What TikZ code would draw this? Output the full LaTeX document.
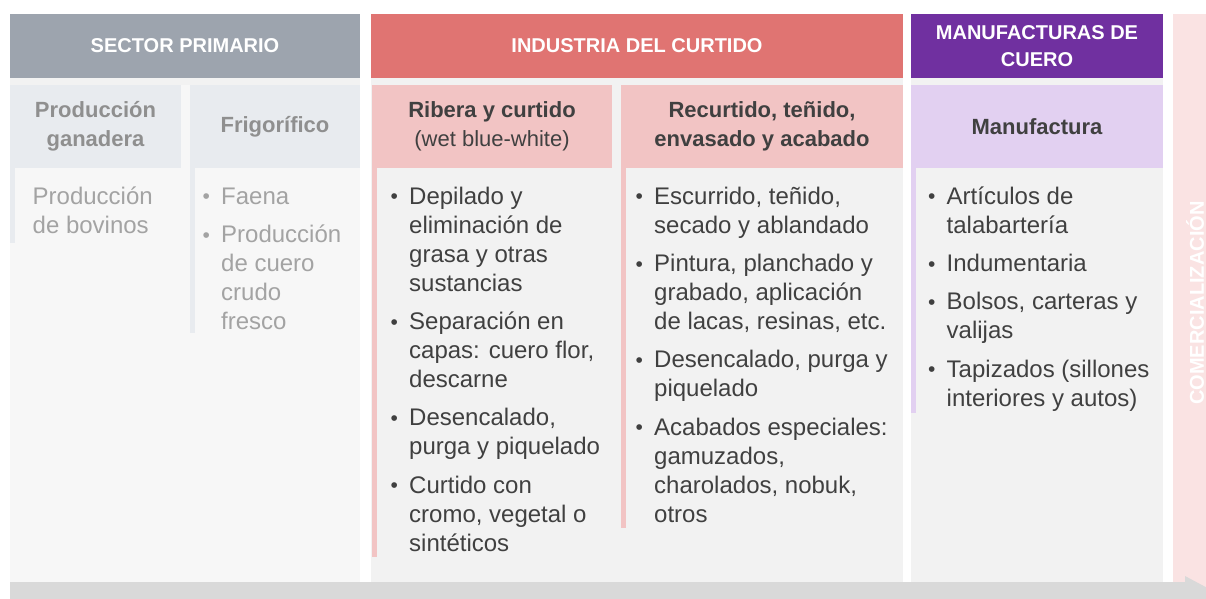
\documentclass[tikz,border=0pt]{standalone}
\usepackage{fontspec}
\setmainfont{Liberation Sans}
\usetikzlibrary{positioning}

\definecolor{hdgray}{HTML}{9DA4AE}
\definecolor{hdred}{HTML}{E07472}
\definecolor{hdpurple}{HTML}{7030A0}
\definecolor{comfill}{HTML}{FAE3E3}
\definecolor{sbgray}{HTML}{E8EBEF}
\definecolor{sbpink}{HTML}{F2C4C4}
\definecolor{sblav}{HTML}{E2D0F1}
\definecolor{bgpale}{HTML}{F7F7F7}
\definecolor{bglight}{HTML}{F2F2F2}
\definecolor{arrgray}{HTML}{D9D9D9}
\definecolor{txtdark}{HTML}{404040}
\definecolor{txtfade}{HTML}{A3A3A3}
\definecolor{subfade}{HTML}{8F8F8F}

\newcommand\bl{\makebox[18.5pt][l]{\raisebox{0.7pt}{\fontsize{21}{21}\selectfont\textbullet}}}

\begin{document}
\begin{tikzpicture}[x=1pt,y=-1pt,
    hdr/.style={text=white,font=\fontsize{20}{27}\selectfont\bfseries,align=center,inner sep=0pt,minimum height=64pt},
    subhead/.style={text=txtdark,font=\fontsize{22}{29}\selectfont\bfseries,align=center,inner sep=0pt,minimum height=83pt},
    body/.style={anchor=base west,inner sep=0pt,text=txtdark,font=\fontsize{24}{29}\selectfont},
    fade/.style={text=txtfade}]
    \clip (0,0) rectangle (1206,598);
    % backgrounds
    \fill[bgpale] (10,78) rectangle (360,582);
    \fill[bglight] (10,78) rectangle (360,85);
    \fill[bglight] (371,78) rectangle (903,582);
    \fill[bglight] (911,78) rectangle (1163,582);
    \fill[comfill] (1173,14) rectangle (1206,598);
    % headers
    \node[hdr,fill=hdgray,minimum width=350pt] (sp) at (185,46) {SECTOR PRIMARIO};
    \node[hdr,fill=hdred,minimum width=532pt] (ic) at (637,46) {INDUSTRIA DEL CURTIDO};
    \node[hdr,fill=hdpurple,minimum width=252pt] (mc) at (1037,46) {MANUFACTURAS DE\\CUERO};
    \node[hdr,minimum height=0pt,rotate=90] (com) at (1195,303) {COMERCIALIZACIÓN};
    % subheaders
    \node[subhead,fill=sbgray,text=subfade,minimum width=171pt] (gan) at (95.5,126.5) {Producción\\ganadera};
    \node[subhead,fill=sbgray,text=subfade,minimum width=170pt] (frig) at (275,126.5) {Frigorífico};
    \node[subhead,fill=sbpink,minimum width=240pt] (rib) at (492,126.5) {Ribera y curtido\\{\mdseries (wet blue-white)}};
    \node[subhead,fill=sbpink,minimum width=282pt] (rec) at (762,126.5) {Recurtido, teñido,\\envasado y acabado};
    \node[subhead,fill=sblav,minimum width=252pt] (man) at (1037,126.5) {Manufactura};
    % left bars
    \fill[sbgray] (gan.south west) rectangle ++(5,75);
    \fill[sbgray] (frig.south west) rectangle ++(5,165);
    \fill[sbpink] (rib.south west) rectangle ++(5,389);
    \fill[sbpink] (rec.south west) rectangle ++(5,360);
    \fill[sblav] (man.south west) rectangle ++(5,245);
    % lists
    \node[body,fade] (tgan) at (32.5,204.5) {\begin{tabular}[t]{@{}l@{}}Producción\\de bovinos\end{tabular}};
    \node[body,fade] (tfrig) at (202.5,204.5) {\begin{tabular}[t]{@{}l@{}l@{}}
        \bl&Faena\\[9.2pt]
        \bl&Producción\\&de cuero\\&crudo\\&fresco\end{tabular}};
    \node[body] (trib) at (390.5,204.5) {\begin{tabular}[t]{@{}l@{}l@{}}
        \bl&Depilado y\\&eliminación de\\&grasa y otras\\&sustancias\\[9.2pt]
        \bl&Separación en\\&capas: cuero flor,\\&descarne\\[9.2pt]
        \bl&Desencalado,\\&purga y piquelado\\[9.2pt]
        \bl&Curtido con\\&cromo, vegetal o\\&sintéticos\end{tabular}};
    \node[body] (trec) at (635.5,204.5) {\begin{tabular}[t]{@{}l@{}l@{}}
        \bl&Escurrido, teñido,\\&secado y ablandado\\[9.2pt]
        \bl&Pintura, planchado y\\&grabado, aplicación\\&de lacas, resinas, etc.\\[9.2pt]
        \bl&Desencalado, purga y\\&piquelado\\[9.2pt]
        \bl&Acabados especiales:\\&gamuzados,\\&charolados, nobuk,\\&otros\end{tabular}};
    \node[body] (tman) at (928,204.5) {\begin{tabular}[t]{@{}l@{}l@{}}
        \bl&Artículos de\\&talabartería\\[9.2pt]
        \bl&Indumentaria\\[9.2pt]
        \bl&Bolsos, carteras y\\&valijas\\[9.2pt]
        \bl&Tapizados (sillones\\&interiores y autos)\end{tabular}};
    % flow arrow
    \fill[arrgray] (10,582) -- (1185,582) -- (1185,576) -- (1230,600)
        -- (1185,624) -- (1185,618) -- (10,618) -- cycle;
\end{tikzpicture}
\end{document}
